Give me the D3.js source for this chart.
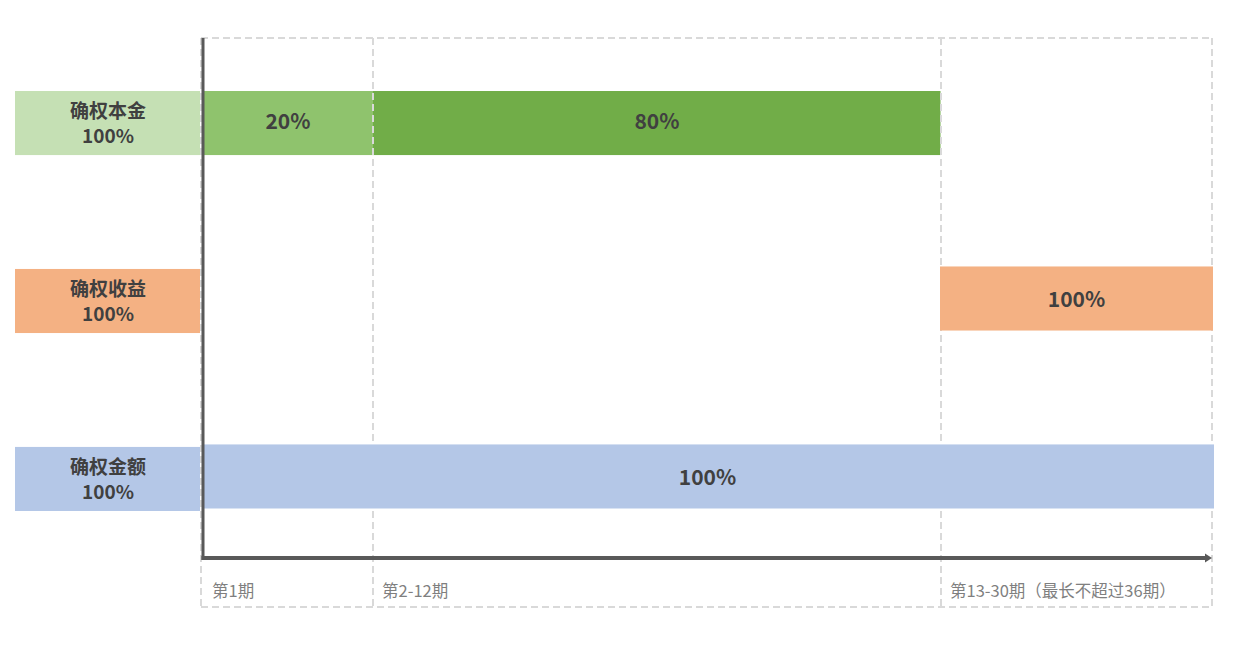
<!DOCTYPE html>
<html>
<head>
<meta charset="utf-8">
<script src="https://cdn.jsdelivr.net/npm/d3@7"></script>
<style>
    body { margin: 0; background: #fff; }
    svg text { font-family: "Noto Sans CJK SC", "Noto Sans", sans-serif; }
</style>
</head>
<body>
<div class="chart"></div>
<script>
// Data
const categories = ['确权本金', '确权收益', '确权金额'];
const categoryTotals = ['100%', '100%', '100%'];
const periodLabels = ['第1期', '第2-12期', '第13-30期（最长不超过36期）'];

// segments: category, start period index, end period index, label
const segCategory = ['确权本金', '确权本金', '确权收益', '确权金额'];
const segStart = [0, 1, 2, 0];
const segEnd = [1, 2, 3, 3];
const segLabel = ['20%', '80%', '100%', '100%'];

const boxColors = {'确权本金': '#c5e0b4', '确权收益': '#f4b183', '确权金额': '#b4c7e7'};
const segColors = ['#8fc36d', '#71ad48', '#f4b183', '#b4c7e7'];

const width = 1235, height = 648;
const margin = {top: 38, left: 203, right: 1212, axisY: 558, bottom: 607};

const svg = d3.select('.chart').append('svg')
    .attr('width', width)
    .attr('height', height);

// x: period boundaries (segments are not equal width)
let xScale = d3.scaleLinear()
    .domain([0, 1, 2, 3])
    .range([margin.left, 373, 941, margin.right]);

let yScale = d3.scaleBand()
    .domain(categories)
    .range([91, 511])
    .paddingInner(0.64)
    .paddingOuter(0);

let segIdx = segLabel.map((l, i) => i);

function drawSegRects(sel) {
    sel.append('rect')
        .attr('x', i => xScale(segStart[i]) - (segStart[i] === 2 ? 1 : 0))
        .attr('y', i => yScale(segCategory[i]) + (segCategory[i] === '确权本金' ? 0 : -2.5))
        .attr('width', i => xScale(segEnd[i]) - xScale(segStart[i]) + (segEnd[i] === 3 ? 2 : 0) - (segEnd[i] === 2 ? 0.5 : 0))
        .attr('height', yScale.bandwidth())
        .style('fill', i => segColors[i]);
}

// green row sits under the dashed grid
svg.append('g').selectAll('g')
    .data(segIdx.filter(i => segCategory[i] === categories[0]))
    .enter().append('g')
    .call(drawSegRects);

// Dashed grid frame
let gridColor = '#d9d9d9';
let grid = svg.append('g').attr('class', 'grid');
grid.selectAll('line.v')
    .data(xScale.domain())
    .enter().append('line')
    .attr('x1', d => d === 0 ? xScale(d) - 2 : xScale(d))
    .attr('x2', d => d === 0 ? xScale(d) - 2 : xScale(d))
    .attr('y1', margin.top)
    .attr('y2', margin.bottom)
    .style('stroke', gridColor)
    .style('stroke-width', 2)
    .style('stroke-dasharray', '7,4');

grid.selectAll('line.h')
    .data([margin.top, margin.bottom])
    .enter().append('line')
    .attr('x1', margin.left - 2)
    .attr('x2', margin.right)
    .attr('y1', d => d)
    .attr('y2', d => d)
    .style('stroke', gridColor)
    .style('stroke-width', 2)
    .style('stroke-dasharray', '7,4');

// other rows cover the grid
svg.append('g').selectAll('g')
    .data(segIdx.filter(i => segCategory[i] !== categories[0]))
    .enter().append('g')
    .call(drawSegRects);

// Left category boxes
let boxes = svg.selectAll('g.box')
    .data(categories)
    .enter().append('g')
    .classed('box', true);

boxes.append('rect')
    .attr('x', 15)
    .attr('y', d => yScale(d))
    .attr('width', 185)
    .attr('height', yScale.bandwidth())
    .style('fill', d => boxColors[d]);

boxes.append('text')
    .attr('x', 108)
    .attr('y', d => yScale(d) + yScale.bandwidth() / 2 - 5)
    .style('text-anchor', 'middle')
    .style('font-size', '19px')
    .style('font-weight', 'bold')
    .style('fill', '#404040')
    .text(d => d);

boxes.append('text')
    .attr('x', 108)
    .attr('y', d => yScale(d) + yScale.bandwidth() / 2 + 20)
    .style('text-anchor', 'middle')
    .style('font-size', '19px')
    .style('font-weight', 'bold')
    .style('fill', '#404040')
    .text((d, i) => categoryTotals[i]);

// Segment labels
svg.selectAll('text.seg')
    .data(segIdx)
    .enter().append('text')
    .classed('seg', true)
    .attr('x', i => (xScale(segStart[i]) + xScale(segEnd[i])) / 2)
    .attr('y', i => yScale(segCategory[i]) + yScale.bandwidth() / 2 + 6)
    .style('text-anchor', 'middle')
    .style('font-size', '21px')
    .style('font-weight', 'bold')
    .style('fill', '#404040')
    .text(i => segLabel[i]);

// Axes
let axisColor = '#595959';
svg.append('line')
    .attr('x1', margin.left)
    .attr('x2', margin.left)
    .attr('y1', margin.top)
    .attr('y2', margin.axisY + 2)
    .style('stroke', axisColor)
    .style('stroke-width', 3);

svg.append('line')
    .attr('x1', margin.left - 1.5)
    .attr('x2', margin.right - 6)
    .attr('y1', margin.axisY)
    .attr('y2', margin.axisY)
    .style('stroke', axisColor)
    .style('stroke-width', 4);

svg.append('path')
    .attr('d', 'M' + (margin.right - 7) + ',' + (margin.axisY - 4.5)
        + 'L' + (margin.right) + ',' + margin.axisY
        + 'L' + (margin.right - 7) + ',' + (margin.axisY + 4.5) + 'Z')
    .style('fill', axisColor);

// Period labels
svg.selectAll('text.period')
    .data(periodLabels)
    .enter().append('text')
    .classed('period', true)
    .attr('x', (d, i) => xScale(i) + 9)
    .attr('y', 597)
    .style('font-size', '16.5px')
    .style('fill', '#7f7f7f')
    .text(d => d);
</script>
</body>
</html>
